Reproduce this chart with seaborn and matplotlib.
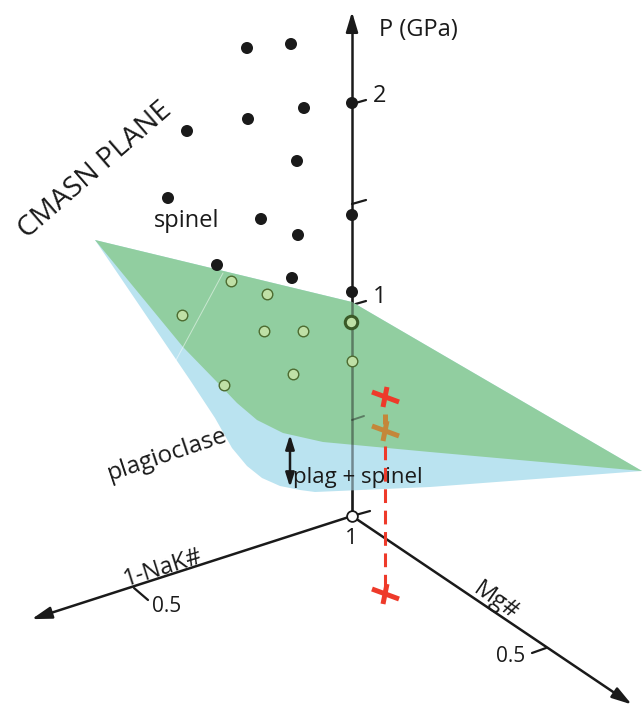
import numpy as np
import pandas as pd
import matplotlib
matplotlib.use("Agg")
import matplotlib.pyplot as plt
import seaborn as sns
from matplotlib.patches import Polygon

sns.set_theme(style="white")
plt.rcParams["font.family"] = ["Open Sans", "DejaVu Sans"]

# Projected drawing coordinates (x to the right, y downward)
ORIGIN = (352, 516)
P_AXIS_TOP = (352, 9)
NAK_AXIS_TIP = (29, 620)
MG_AXIS_TIP = (634, 706)

# P-axis ticks (label, y)
p_tick_labels = ["1", "", "2"]
p_tick_y = [303, 202, 102]

# Experiments with spinel (above the CMASN plane)
spinel_x = [247, 291, 187, 248, 304, 297, 168, 261, 298, 217, 292, 352, 352, 352]
spinel_y = [48, 44, 131, 119, 108, 161, 198, 219, 235, 265, 278, 103, 215, 292]

# Experiments with plagioclase (below the plane)
plag_x = [231, 267, 182, 264, 303, 293, 224, 352]
plag_y = [281, 294, 315, 331, 331, 374, 385, 361]
ref_x, ref_y = [351], [322]

# Plane outlines
green_x = [95, 183, 217, 237, 257, 283, 323, 430, 642, 352]
green_y = [240, 347, 382, 403, 420, 433, 442, 452, 471, 302]
blue_x = [95, 190, 215, 232, 247, 262, 280, 300, 315, 430, 642, 352]
blue_y = [240, 380, 418, 448, 466, 478, 486, 490, 492, 487, 471, 302]

# Projected compositions
proj_x = [385, 385]
proj_y = [397, 594]
proj_plane_x, proj_plane_y = 385, 431

fig = plt.figure(figsize=(6.42, 7.10), dpi=100)
ax = fig.add_axes([0, 0, 1, 1])
ax.set_xlim(0, 642)
ax.set_ylim(710, 0)
ax.axis("off")

black = "#1a1a1a"
green = "#91cea0"
blue = "#bae3f0"

# Axes lines
ax.plot([ORIGIN[0], P_AXIS_TOP[0]], [ORIGIN[1], P_AXIS_TOP[1] + 10], color=black, lw=1.8, zorder=1)
ax.annotate("", xy=P_AXIS_TOP, xytext=(P_AXIS_TOP[0], P_AXIS_TOP[1] + 22),
            arrowprops=dict(arrowstyle="-|>,head_length=1.0,head_width=0.3", color=black, lw=1.8), zorder=1)
for tip in (NAK_AXIS_TIP, MG_AXIS_TIP):
    d = np.array(tip, float) - np.array(ORIGIN, float)
    d /= np.hypot(*d)
    start = np.array(tip) - d * 18
    ax.plot([ORIGIN[0], start[0]], [ORIGIN[1], start[1]], color=black, lw=1.8, zorder=1)
    ax.annotate("", xy=tip, xytext=tuple(start - d * 4),
                arrowprops=dict(arrowstyle="-|>,head_length=1.0,head_width=0.3", color=black, lw=1.8), zorder=1)

# P ticks
for y in p_tick_y + [418]:
    ax.plot([ORIGIN[0], ORIGIN[0] + 14], [y + 2, y - 2], color=black, lw=1.6, zorder=1)
ax.plot([ORIGIN[0], ORIGIN[0] + 18], [ORIGIN[1], ORIGIN[1] - 5], color=black, lw=1.6, zorder=1)
ax.plot([134, 148], [588, 600], color=black, lw=1.6, zorder=1)
ax.plot([532, 546], [653, 648], color=black, lw=1.6, zorder=1)

# Planes
ax.add_patch(Polygon(np.column_stack([blue_x, blue_y]), closed=True, fc=blue, ec="none", zorder=2))
ax.add_patch(Polygon(np.column_stack([green_x, green_y]), closed=True, fc=green, ec="none", zorder=2.1))
ax.plot([223, 175], [273, 362], color="white", lw=0.7, alpha=0.5, zorder=2.2)

# P axis seen through the planes
ax.plot([ORIGIN[0], ORIGIN[0]], [ORIGIN[1], 290], color=black, lw=1.8, alpha=0.45, zorder=2.5)
ax.plot([ORIGIN[0], ORIGIN[0] + 12], [420, 416], color=black, lw=1.4, alpha=0.45, zorder=2.5)

# Origin marker
sns.scatterplot(x=[ORIGIN[0]], y=[ORIGIN[1]], ax=ax, s=60, color="white", edgecolor=black,
                linewidth=1.3, zorder=4, legend=False)

# Experiments
sns.scatterplot(x=spinel_x, y=spinel_y, ax=ax, s=75, color=black, edgecolor="none", zorder=4, legend=False)
sns.scatterplot(x=plag_x, y=plag_y, ax=ax, s=58, color="#bfe0a6", edgecolor="#4d6b30", linewidth=1.0, zorder=4, legend=False)
sns.scatterplot(x=ref_x, y=ref_y, ax=ax, s=80, color="#bfe0a6", edgecolor="#3b5a28", linewidth=2.2, zorder=4, legend=False)

# Projection line
ax.plot([proj_x[0], proj_x[0]], [446, 586], color="#ee3a2a", lw=2.2, ls=(0, (4.5, 2.5)), zorder=3)


def cross(cx, cy, color):
    ax.plot([cx - 13, cx + 14], [cy - 5, cy + 5], color=color, lw=3.6, solid_capstyle="butt", zorder=5)
    ax.plot([cx + 2, cx - 2], [cy - 10, cy + 10], color=color, lw=3.6, solid_capstyle="butt", zorder=5)


for cx, cy in zip(proj_x, proj_y):
    cross(cx, cy, "#ee3a2a")
cross(proj_plane_x, proj_plane_y, "#c4873a")
ax.plot([proj_plane_x, proj_plane_x], [414, 424], color="#c4873a", lw=3.6, solid_capstyle="butt", zorder=5)

# Phase-boundary arrow
ax.annotate("", xy=(290, 432), xytext=(290, 490),
            arrowprops=dict(arrowstyle="<|-|>,head_length=0.7,head_width=0.22", color=black, lw=1.8), zorder=5)

# Labels
txt = dict(color=black, ha="center", va="center", rotation_mode="anchor", zorder=6)
ax.text(418, 30, "P (GPa)", fontsize=17, **txt)
for lab, y in zip(p_tick_labels, p_tick_y):
    if lab:
        ax.text(380, y - 6, lab, fontsize=17, **txt)
ax.text(95, 170, "CMASN PLANE", fontsize=20.5, rotation=41, **txt)
ax.text(187, 221, "spinel", fontsize=17, **txt)
ax.text(167, 455, "plagioclase", fontsize=17.5, rotation=18.5, **txt)
ax.text(358, 477, "plag + spinel", fontsize=16, **txt)
ax.text(351, 539, "1", fontsize=16, **txt)
ax.text(163, 568, "1-NaK#", fontsize=17, rotation=17.5, **txt)
ax.text(167, 607, "0.5", fontsize=15, **txt)
ax.text(496, 601, "Mg#", fontsize=17, rotation=-35, **txt)
ax.text(511, 657, "0.5", fontsize=15, **txt)

fig.savefig("out.png", dpi=100)
